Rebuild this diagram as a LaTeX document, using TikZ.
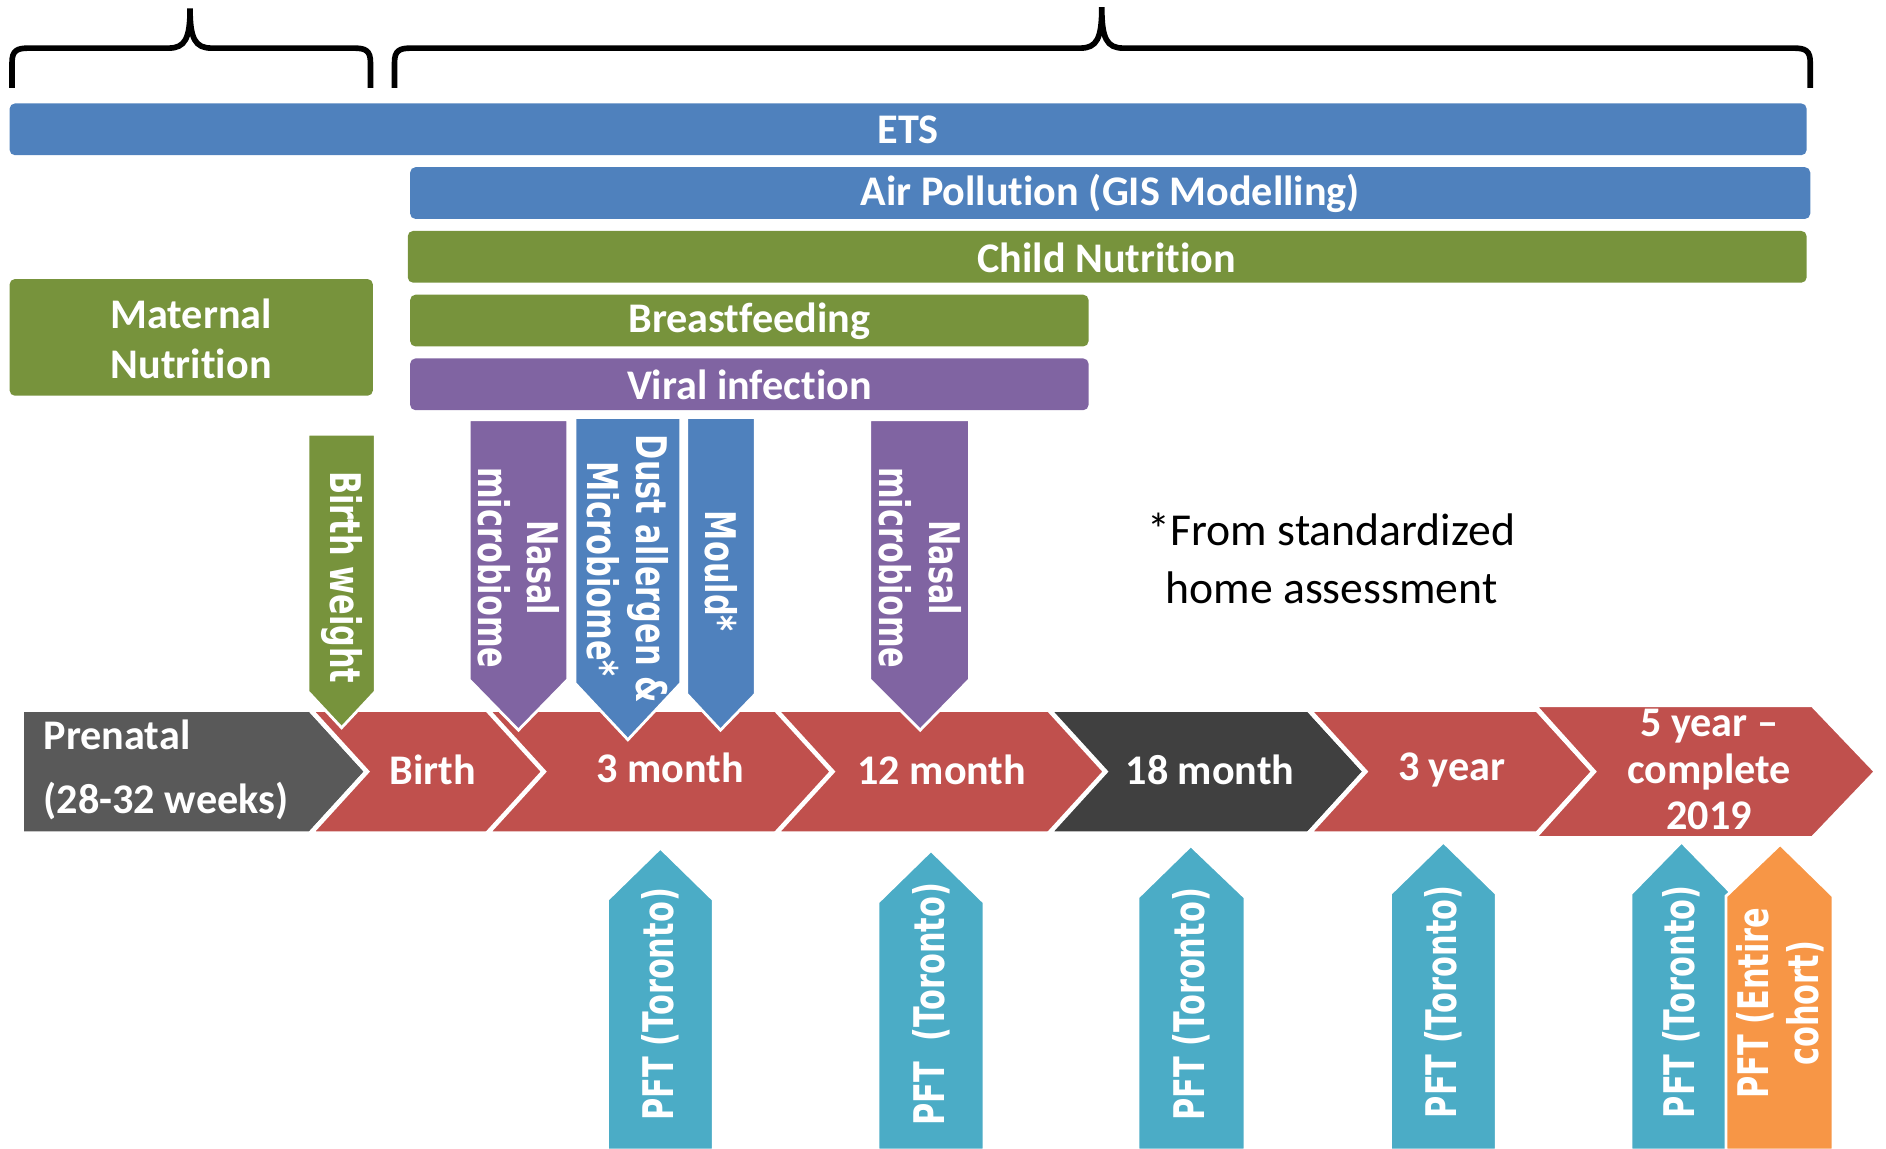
\documentclass[tikz,border=0pt]{standalone}
\usepackage{fontspec}
\setmainfont{Carlito}[RawFeature={-liga;-clig;-rlig;-calt;-dlig}]
\newfontfamily\armfont[FakeStretch=0.72]{DejaVu Sans}
\definecolor{expblue}{HTML}{4F81BD}
\definecolor{nutgreen}{HTML}{77933C}
\definecolor{virpurple}{HTML}{8064A2}
\definecolor{visitred}{HTML}{C0504D}
\definecolor{prengrey}{HTML}{595959}
\definecolor{darkgrey}{HTML}{404040}
\definecolor{pftteal}{HTML}{4BACC6}
\definecolor{pftorange}{HTML}{F79646}
\tikzset{
  bar/.style={fill=#1, rounded corners=1.5pt},
  barlabel/.style={text=white, font=\bfseries\fontsize{12}{14.3}\selectfont, align=center},
  chev/.style={fill=#1, draw=white, line width=1.3pt, line join=miter},
  visitlabel/.style={text=white, font=\bfseries\fontsize{12}{13.2}\selectfont, align=center},
  arm/.style={fill=#1, draw=white, line width=0.8pt},
  armlabel/.style={text=white, font=\armfont\bfseries\fontsize{12}{14}\selectfont, align=center},
  brace/.style={draw=black, line width=1.6pt},
}
\begin{document}
\begin{tikzpicture}[x=0.012028cm, y=-0.012028cm]
\useasboundingbox (0,0) rectangle (1568,955);
% braces
\draw[brace] (10,73) -- (10,52) .. controls (10,42) and (14,40) .. (24,40) -- (140,40) .. controls (154,40) and (158,32) .. (158,7) .. controls (158,32) and (162,40) .. (176,40) -- (294,40) .. controls (304,40) and (308,42) .. (308,52) -- (308,73);
\draw[brace] (328,73) -- (328,52) .. controls (328,42) and (332,40) .. (342,40) -- (898,40) .. controls (912,40) and (916,32) .. (916,6) .. controls (916,32) and (920,40) .. (934,40) -- (1491,40) .. controls (1501,40) and (1505,42) .. (1505,52) -- (1505,73);
% exposure bars
\fill[bar=expblue] (8,86) rectangle (1502,129);
\node[barlabel] (ets) at (755,108) {ETS};
\fill[bar=expblue] (341,139) rectangle (1505,182);
\node[barlabel] (air) at (923,161) {Air Pollut\kern0pt ion (GIS Modelling)};
\fill[bar=nutgreen] (339,192) rectangle (1502,235);
\node[barlabel] (child) at (920,214) {Child Nutrit\kern0pt ion};
\fill[bar=nutgreen] (8,232) rectangle (310,329);
\node[barlabel] (maternal) at (159,282) {Maternal\\Nutrit\kern0pt ion};
\fill[bar=nutgreen] (341,245) rectangle (905,288);
\node[barlabel] (breast) at (623,267) {Breastfeeding};
\fill[bar=virpurple] (341,298) rectangle (905,341);
\node[barlabel] (viral) at (623,320) {Viral infection};
% timeline
\filldraw[chev=prengrey] (18,590) -- (258,590) -- (305,641.5) -- (258,693) -- (18,693) -- cycle;
\node[visitlabel, anchor=west, align=left, font=\bfseries\fontsize{12}{18}\selectfont] (prenatal) at (26,640) {Prenatal\\(28-32 weeks)};
\filldraw[chev=visitred] (258,590) -- (408,590) -- (455,641.5) -- (408,693) -- (258,693) -- (305,641.5) -- cycle;
\node[visitlabel] (birth) at (360,640) {Birth};
\filldraw[chev=visitred] (405,590) -- (648,590) -- (695,641.5) -- (648,693) -- (405,693) -- (452,641.5) -- cycle;
\node[visitlabel] (m3) at (557,638) {3 month};
\filldraw[chev=visitred] (645,590) -- (873,590) -- (920,641.5) -- (873,693) -- (645,693) -- (692,641.5) -- cycle;
\node[visitlabel] (m12) at (783,640) {12 month};
\filldraw[chev=darkgrey] (872,590) -- (1088,590) -- (1135,641.5) -- (1088,693) -- (872,693) -- (919,641.5) -- cycle;
\node[visitlabel] (m18) at (1006,640) {18 month};
\filldraw[chev=visitred] (1088,590) -- (1278,590) -- (1325,641.5) -- (1278,693) -- (1088,693) -- (1135,641.5) -- cycle;
\node[visitlabel] (y3) at (1207,640) {3 year};
\filldraw[chev=visitred] (1275,586) -- (1507,586) -- (1560,641.5) -- (1507,697) -- (1275,697) -- (1325,641.5) -- cycle;
\node[visitlabel] (y5) at (1421,640) {5 year --\\complete\\2019};
% samples collected
\filldraw[arm=nutgreen] (256,361) -- (312,361) -- (312,575) -- (284,605) -- (256,575) -- cycle;
\node[armlabel, rotate=-90] (bw) at (284,480) {Birth weight};
\filldraw[arm=virpurple] (390,349) -- (472,349) -- (472,565) -- (431,607) -- (390,565) -- cycle;
\node[armlabel, rotate=-90] (nasal1) at (431,472) {Nasal\\microbiome};
\filldraw[arm=expblue] (478,347) -- (566,347) -- (566,568) -- (522,615) -- (478,568) -- cycle;
\node[armlabel, rotate=-90] (dust) at (522,473) {Dust allergen \&\\Microbiome*};
\filldraw[arm=expblue] (571,347) -- (628,347) -- (628,577) -- (599,607) -- (571,577) -- cycle;
\node[armlabel, rotate=-90] (mould) at (600,475) {Mould*};
\filldraw[arm=virpurple] (723,349) -- (806,349) -- (806,565) -- (765,607) -- (723,565) -- cycle;
\node[armlabel, rotate=-90] (nasal2) at (765,472) {Nasal\\microbiome};
% lung function
\filldraw[arm=pftteal] (505,956) -- (505,748) -- (549,705) -- (593,748) -- (593,956) -- cycle;
\node[armlabel, rotate=90] (pft1) at (549,835) {PFT (Toronto)};
\filldraw[arm=pftteal] (730,956) -- (730,750) -- (774,707) -- (818,750) -- (818,956) -- cycle;
\node[armlabel, rotate=90] (pft2) at (774,835) {PFT~~(Toronto)};
\filldraw[arm=pftteal] (946,956) -- (946,746) -- (990,703) -- (1035,746) -- (1035,956) -- cycle;
\node[armlabel, rotate=90] (pft3) at (990,835) {PFT (Toronto)};
\filldraw[arm=pftteal] (1156,956) -- (1156,743) -- (1200,700) -- (1244,743) -- (1244,956) -- cycle;
\node[armlabel, rotate=90] (pft4) at (1200,833) {PFT (Toronto)};
\filldraw[arm=pftteal] (1356,956) -- (1356,743) -- (1398,700) -- (1440,743) -- (1440,956) -- cycle;
\node[armlabel, rotate=90] (pft5) at (1398,833) {PFT (Toronto)};
\filldraw[arm=pftorange] (1435,956) -- (1435,745) -- (1480,702) -- (1524,745) -- (1524,956) -- cycle;
\node[armlabel, rotate=90] (pft6) at (1480,834) {PFT (Entire\\cohort)};
% footnote
\node[align=center, font=\fontsize{13}{16.4}\selectfont] (note) at (1107,464) {*From standardized\\home assessment};
\end{tikzpicture}
\end{document}
